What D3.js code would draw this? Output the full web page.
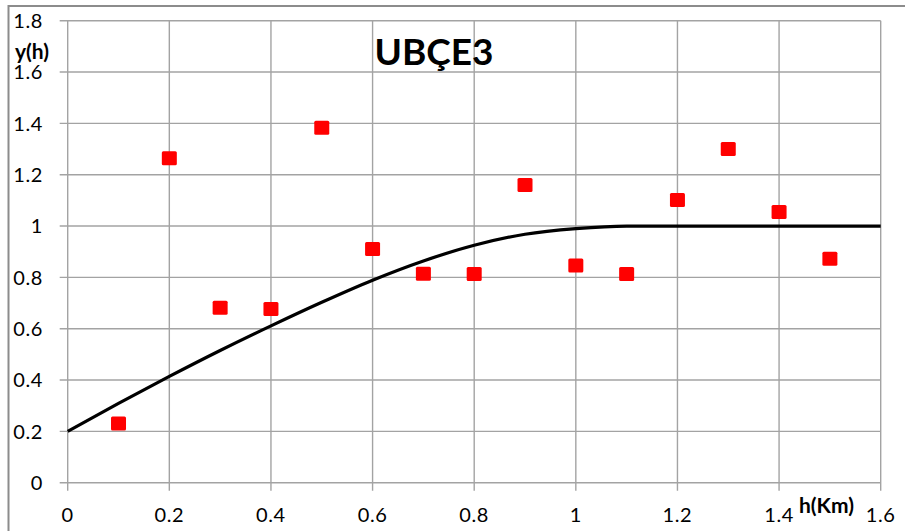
<!DOCTYPE html>
<html>
<head>
<meta charset="utf-8">
<script src="https://cdn.jsdelivr.net/npm/d3@7"></script>
<style>
  html, body { margin: 0; padding: 0; background: #fff; }
  svg { display: block; }
  text { font-family: Lato, "Open Sans", sans-serif; fill: #000; }
</style>
</head>
<body>
<svg id="chart" width="905" height="531"></svg>
<script>
// Experimental semivariogram points (lag h in km, y(h))
const lagH = [0.1, 0.2, 0.3, 0.4, 0.5, 0.6, 0.7, 0.8, 0.9, 1.0, 1.1, 1.2, 1.3, 1.4, 1.5];
const gammaObs = [0.231, 1.264, 0.682, 0.677, 1.383, 0.911, 0.814, 0.813, 1.160, 0.846, 0.813, 1.101, 1.300, 1.055, 0.873];

// Fitted model curve, sampled along h
const modelH = [0, 0.1, 0.2, 0.3, 0.4, 0.5, 0.6, 0.7, 0.8, 0.9, 1.0, 1.1, 1.2, 1.3, 1.4, 1.5, 1.6];
const modelY = [0.2, 0.309, 0.414, 0.515, 0.611, 0.703, 0.789, 0.864, 0.925, 0.968, 0.990, 1.0, 1.0, 1.0, 1.0, 1.0, 1.0];

// Axis ticks
const xTicks = [0, 0.2, 0.4, 0.6, 0.8, 1, 1.2, 1.4, 1.6];
const yTicks = [0, 0.2, 0.4, 0.6, 0.8, 1, 1.2, 1.4, 1.6, 1.8];

const chartTitle = "UBÇE3";
const xLabel = "h(Km)";
const yLabel = "y(h)";

const svg = d3.select("#chart");

// Chart frame
svg.append("path")
  .attr("d", "M8.5,531 L8.5,6 L905,6")
  .attr("fill", "none")
  .attr("stroke", "#8c8c8c")
  .attr("stroke-width", 2);

const x = d3.scaleLinear().domain([0, 1.6]).range([67.7, 880.7]);
const y = d3.scaleLinear().domain([0, 1.8]).range([482.7, 20.7]);

const gridColor = "#a3a3a3";

// Horizontal gridlines with outside ticks
svg.append("g")
  .selectAll("line")
  .data(yTicks)
  .join("line")
  .attr("x1", x(0) - 8)
  .attr("x2", x(1.6))
  .attr("y1", d => y(d))
  .attr("y2", d => y(d))
  .attr("stroke", gridColor)
  .attr("stroke-width", 1.4);

// Vertical gridlines with outside ticks
svg.append("g")
  .selectAll("line")
  .data(xTicks)
  .join("line")
  .attr("x1", d => x(d))
  .attr("x2", d => x(d))
  .attr("y1", y(1.8))
  .attr("y2", y(0) + 8)
  .attr("stroke", gridColor)
  .attr("stroke-width", 1.4);

// Y tick labels
svg.append("g")
  .selectAll("text")
  .data(yTicks)
  .join("text")
  .attr("x", 43)
  .attr("y", d => y(d))
  .attr("dy", "0.36em")
  .attr("text-anchor", "end")
  .attr("font-size", 20)
  .attr("letter-spacing", 0.6)
  .text(d => d3.format("")(d));

// X tick labels
svg.append("g")
  .selectAll("text")
  .data(xTicks)
  .join("text")
  .attr("x", d => x(d))
  .attr("y", 522)
  .attr("text-anchor", "middle")
  .attr("font-size", 20)
  .attr("letter-spacing", 0.6)
  .text(d => d3.format("")(d));

// Model curve
const line = d3.line()
  .x(d => x(d[0]))
  .y(d => y(d[1]))
  .curve(d3.curveMonotoneX);

svg.append("path")
  .datum(d3.zip(modelH, modelY))
  .attr("d", line)
  .attr("fill", "none")
  .attr("stroke", "#000")
  .attr("stroke-width", 3.2);

// Observed points
const mw = 15, mh = 14;
svg.append("g")
  .selectAll("rect")
  .data(d3.zip(lagH, gammaObs))
  .join("rect")
  .attr("x", d => x(d[0]) - mw / 2)
  .attr("y", d => y(d[1]) - mh / 2)
  .attr("width", mw)
  .attr("height", mh)
  .attr("rx", 1.5)
  .attr("fill", "#ff0000");

// Title
svg.append("text")
  .attr("x", 434)
  .attr("y", 65)
  .attr("text-anchor", "middle")
  .attr("font-size", 37)
  .attr("font-weight", "bold")
  .text(chartTitle);

// Axis titles
svg.append("text")
  .attr("x", 15)
  .attr("y", 59)
  .attr("font-size", 21)
  .attr("font-weight", "bold")
  .text(yLabel);

svg.append("text")
  .attr("x", 799)
  .attr("y", 513)
  .attr("font-size", 21)
  .attr("font-weight", "bold")
  .text(xLabel);
</script>
</body>
</html>
